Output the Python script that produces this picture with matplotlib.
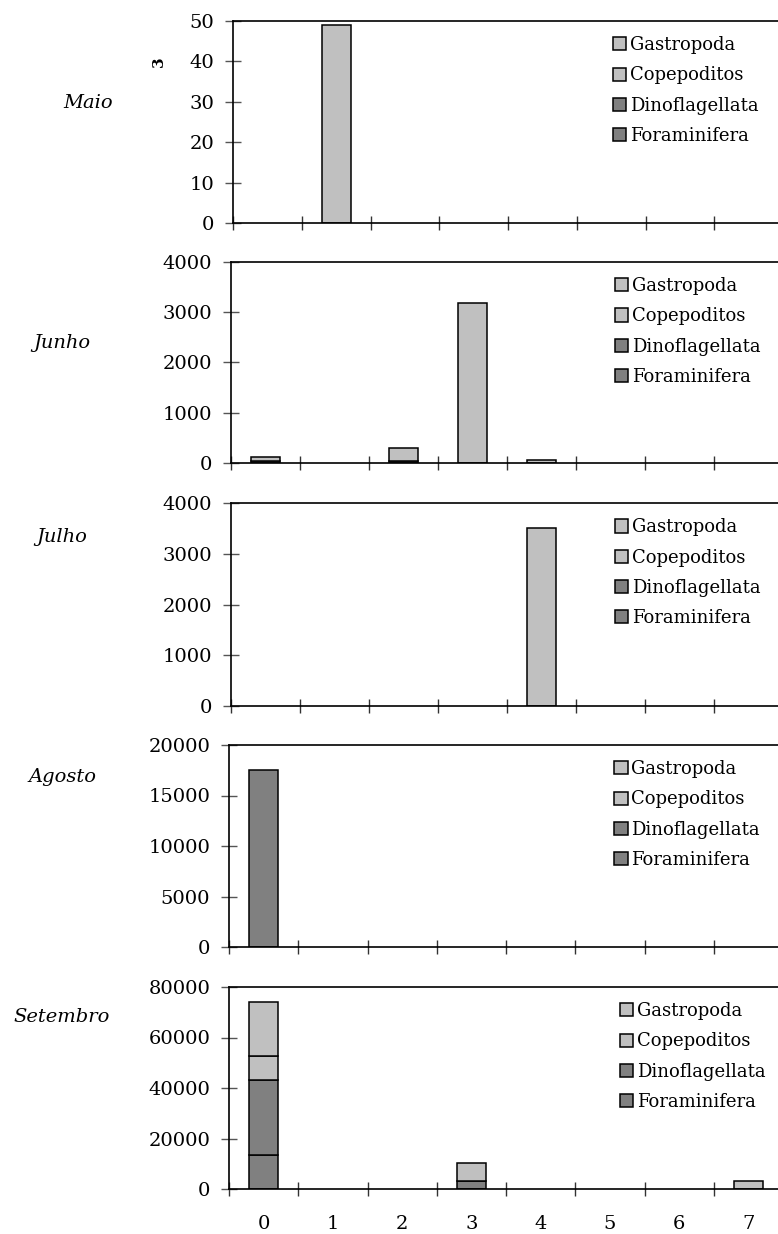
#!/usr/bin/env python3
# -*- coding: utf-8 -*-

# Stacked bars per month (Maio..Setembro), 4 taxa, stations 0-7

import numpy as np
import matplotlib
matplotlib.use('Agg')
import matplotlib.pyplot as plt
from matplotlib.patches import Patch

plt.rcParams['font.family'] = 'DejaVu Serif'

# Data
months = ['Maio', 'Junho', 'Julho', 'Agosto', 'Setembro']
stations = [0, 1, 2, 3, 4, 5, 6, 7]
taxa = ['Foraminifera', 'Dinoflagellata', 'Copepoditos', 'Gastropoda']

# one row per month, one value per station
foraminifera = [[0, 0, 0, 0, 0, 0, 0, 0],
                [45, 0, 30, 0, 0, 0, 0, 0],
                [0, 0, 0, 0, 0, 0, 0, 0],
                [0, 0, 0, 0, 0, 0, 0, 0],
                [13600, 0, 0, 3200, 0, 0, 0, 0]]
dinoflagellata = [[0, 0, 0, 0, 0, 0, 0, 0],
                  [0, 0, 0, 0, 0, 0, 0, 0],
                  [0, 0, 0, 0, 0, 0, 0, 0],
                  [17500, 0, 0, 0, 0, 0, 0, 0],
                  [29600, 0, 0, 0, 0, 0, 0, 0]]
copepoditos = [[0, 0, 0, 0, 0, 0, 0, 0],
               [0, 0, 0, 0, 0, 0, 0, 0],
               [0, 0, 0, 0, 0, 0, 0, 0],
               [0, 0, 0, 0, 0, 0, 0, 0],
               [9600, 0, 0, 0, 0, 0, 0, 3300]]
gastropoda = [[0, 49, 0, 0, 0, 0, 0, 0],
              [80, 0, 270, 3180, 50, 0, 0, 0],
              [0, 0, 0, 0, 3500, 0, 0, 0],
              [0, 0, 0, 0, 0, 0, 0, 0],
              [21200, 0, 0, 7200, 0, 0, 0, 0]]
y_max = [50, 4000, 4000, 20000, 80000]
y_step = [10, 1000, 1000, 5000, 20000]

series = [foraminifera, dinoflagellata, copepoditos, gastropoda]
colours = ['#808080', '#808080', '#c0c0c0', '#c0c0c0']

# layout in pixels (top, bottom, left) for each panel
W, H = 778, 1234
tops = [21, 262, 503, 745, 987]
bottoms = [223, 463, 706, 947, 1189]
lefts = [233, 231, 231, 229, 229]
right = 783
leg_x = [0.69, 0.695, 0.695, 0.695, 0.705]
label_x = [88, 62, 62, 62, 62]
label_y = [103, 343, 537, 777, 1017]

fig = plt.figure(figsize=(W/100, H/100), dpi=100)
x = np.arange(len(stations))
handles = [Patch(facecolor=colours[s], edgecolor='black', lw=1.1) for s in range(len(taxa))]

for m in range(len(months)):
    ax = fig.add_axes([lefts[m]/W, 1 - bottoms[m]/H, (right - lefts[m])/W, (bottoms[m] - tops[m])/H])
    base = np.zeros(len(stations))
    for s in range(len(taxa)):
        vals = np.array(series[s][m], dtype=float)
        keep = vals > 0
        ax.bar(x[keep], vals[keep], 0.42, bottom=base[keep], color=colours[s],
               edgecolor='black', lw=1.1)
        base = base + vals
    ax.set_xlim(-0.5, 7.5)
    ax.set_ylim(0, y_max[m])
    ax.set_yticks(np.arange(0, y_max[m] + 1, y_step[m]))
    ax.set_xticks(np.arange(-0.5, 8, 1))
    ax.set_xticklabels([])
    ax.tick_params(axis='y', direction='inout', length=11, width=1, color='#555555', labelsize=14, pad=8)
    ax.tick_params(axis='x', direction='inout', length=10, width=1, color='#333333')
    ax.spines['right'].set_visible(False)
    for sp in ['left', 'bottom', 'top']:
        ax.spines[sp].set_linewidth(1.2)
    if m == len(months) - 1:
        ax.set_xticks(x, minor=True)
        ax.set_xticklabels([str(v) for v in stations], minor=True)
        ax.tick_params(axis='x', which='minor', length=0, labelsize=14, pad=19)
    ax.legend(handles[::-1], taxa[::-1], loc='upper left', bbox_to_anchor=(leg_x[m], 0.925),
              frameon=False, fontsize=13, handlelength=0.75, handleheight=0.75,
              handletextpad=0.2, labelspacing=0.68, borderpad=0, borderaxespad=0)
    fig.text(label_x[m]/W, 1 - label_y[m]/H, months[m], fontsize=14, style='italic',
             ha='center', va='center')

fig.text(159/W, 1 - 62/H, '3', fontsize=11, fontweight='bold', rotation=90, ha='center', va='center')

fig.savefig('out.png', dpi=100)
